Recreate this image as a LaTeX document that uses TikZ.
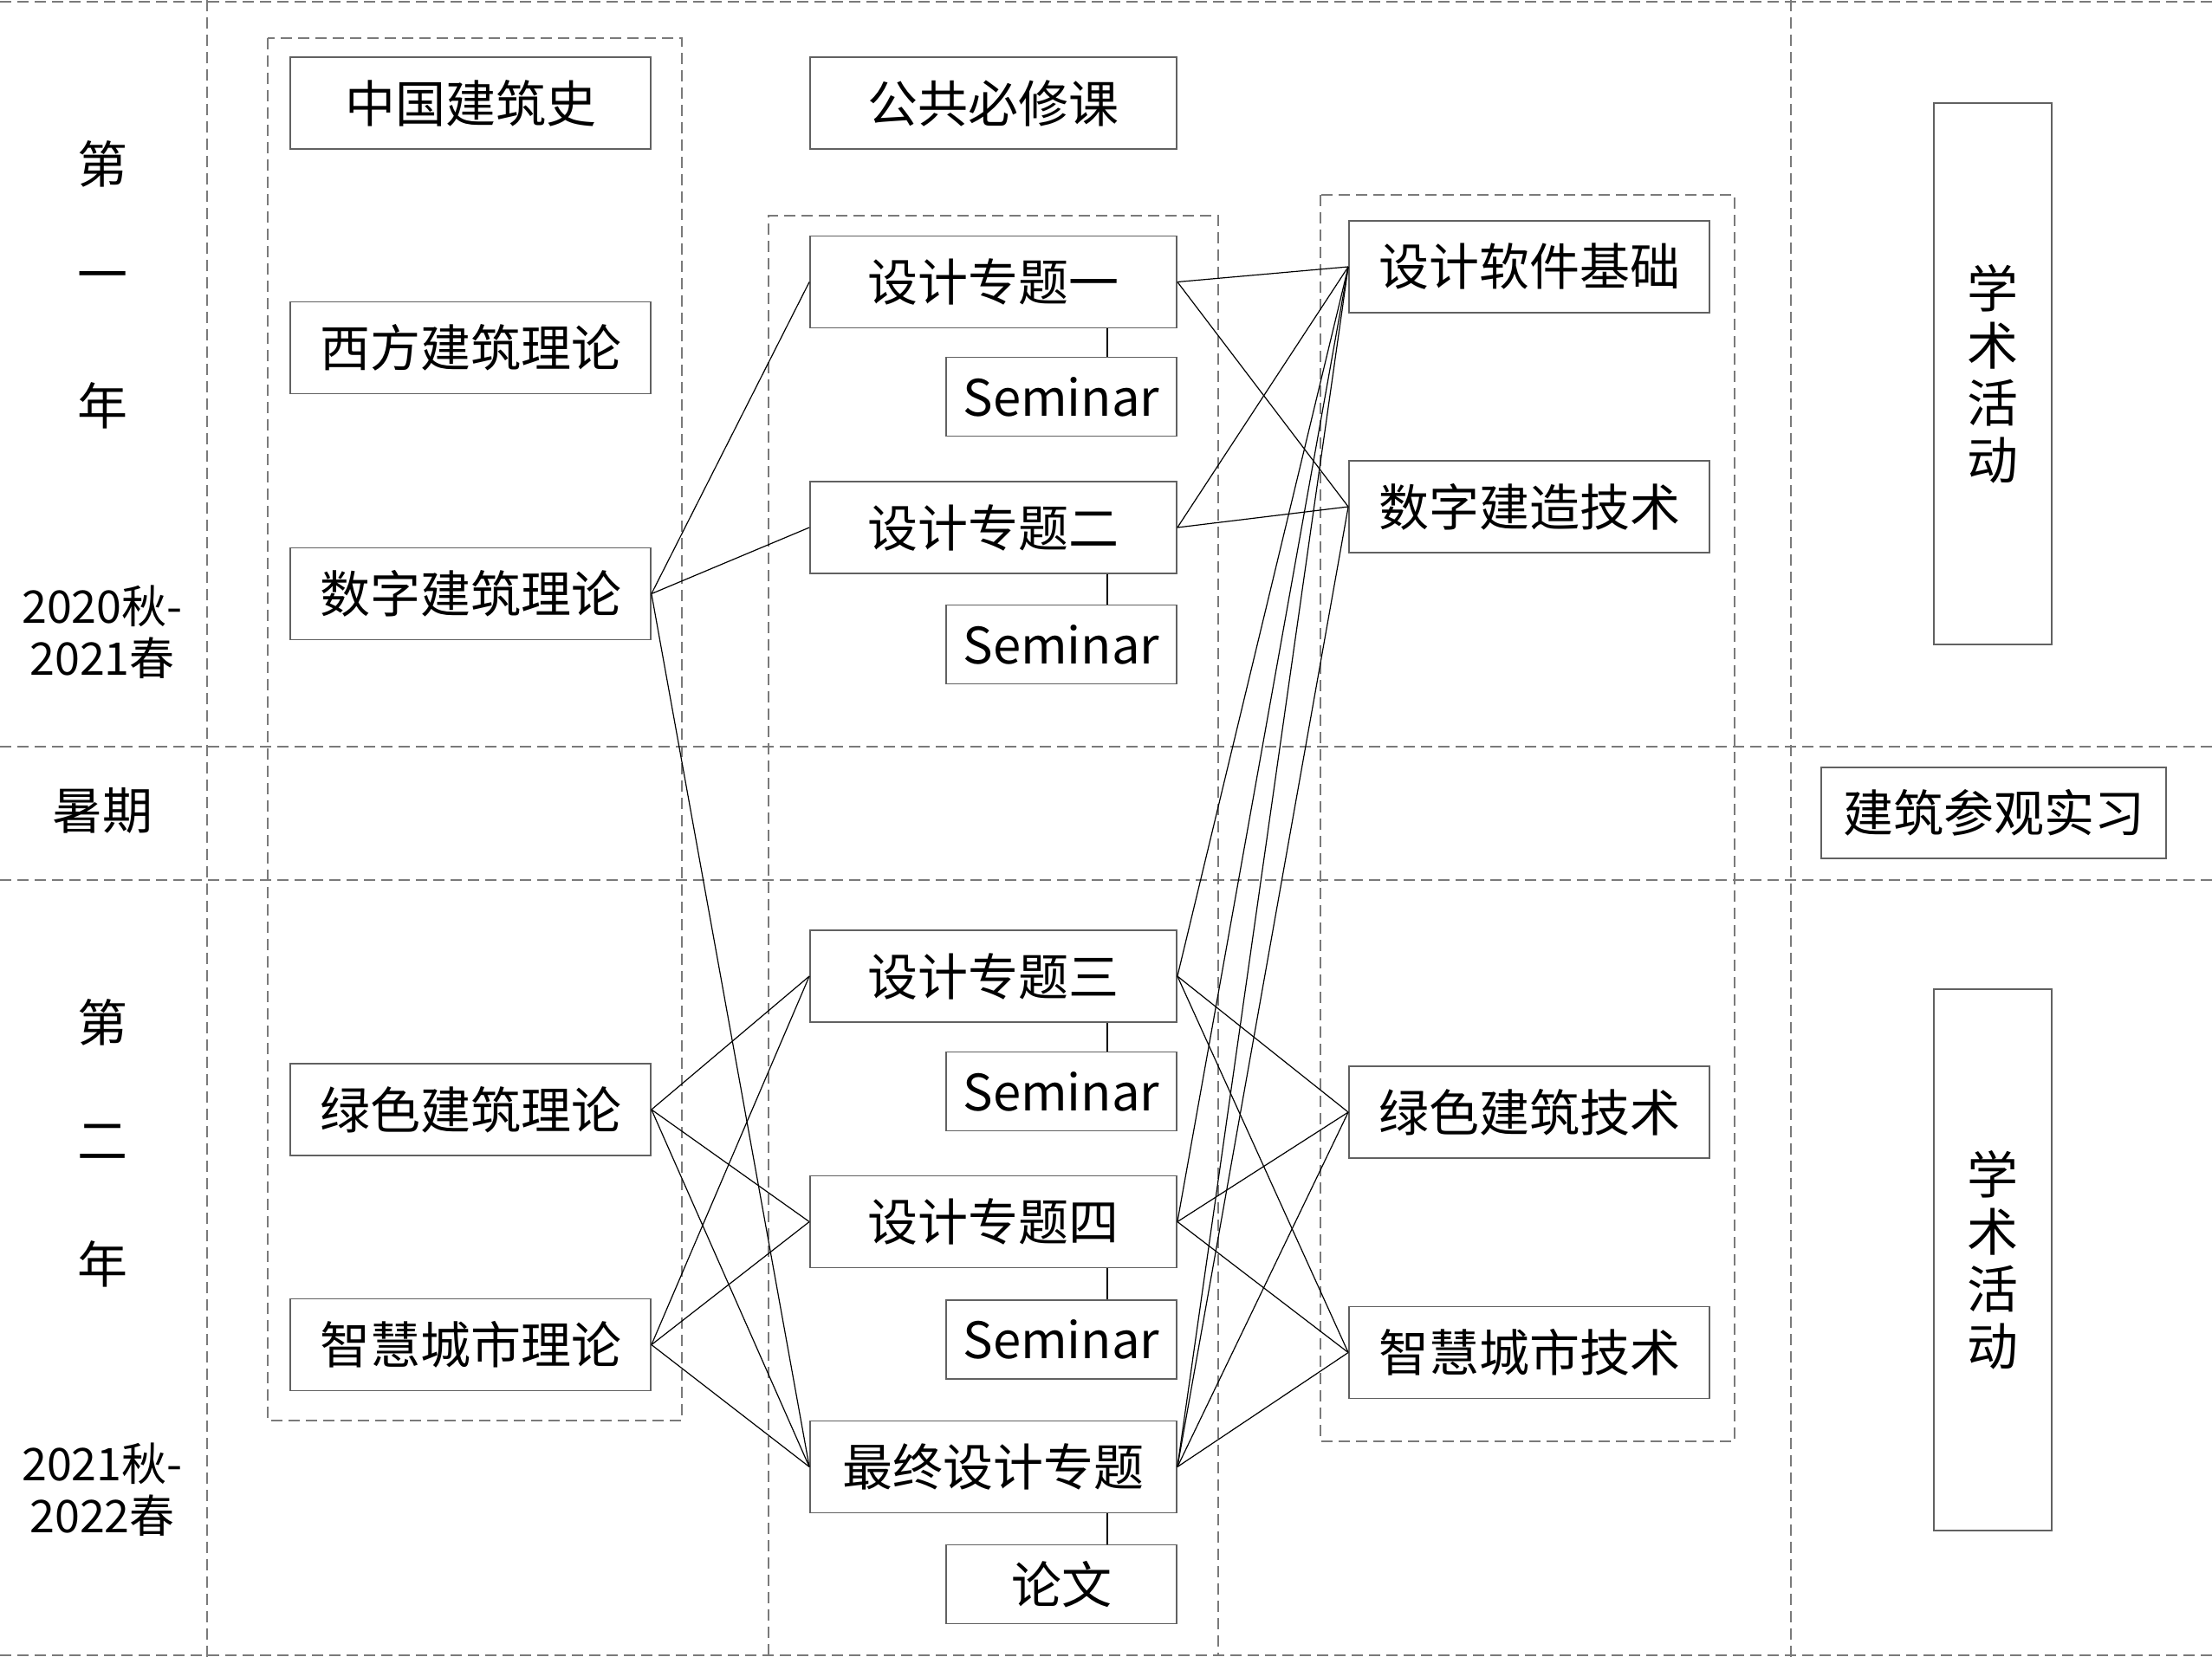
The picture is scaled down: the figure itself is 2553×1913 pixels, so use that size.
\documentclass[tikz,border=0pt]{standalone}
\usepackage{fontspec}
\setmainfont{Noto Sans CJK SC}
\begin{document}
\begin{tikzpicture}[x=1pt,y=-1pt,
  box/.style={draw=black!62, line width=1.8pt, inner sep=0pt, align=center,
    font=\fontsize{58}{64}\selectfont, text=black},
  mainbox/.style={box, minimum width=416pt, minimum height=106pt},
  midbox/.style={box, minimum width=423pt, minimum height=106pt},
  sembox/.style={box, minimum width=266pt, minimum height=91pt},
  actbox/.style={box, minimum width=136pt, minimum height=625pt, font=\fontsize{59}{66}\selectfont},
  lbl/.style={inner sep=0pt, align=center, font=\fontsize{58}{60}\selectfont},
  yearlbl/.style={inner sep=0pt, align=center, font=\fontsize{52}{60}\selectfont},
  dashline/.style={draw=black!52, line width=2pt, dash pattern=on 13pt off 7pt},
  link/.style={draw=black, line width=1.2pt}
]
\useasboundingbox (0,0) rectangle (2553,1913);
\fill[white] (0,0) rectangle (2553,1913);

% frame lines
\draw[dashline] (0,2) -- (2553,2);
\draw[dashline] (0,1911) -- (2553,1911);
\draw[dashline] (0,862) -- (2553,862);
\draw[dashline] (0,1016) -- (2553,1016);
\draw[dashline] (239,0) -- (239,1913);
\draw[dashline] (2067,0) -- (2067,1913);

% group boxes
\draw[dashline] (309,44) rectangle (787,1640);
\draw[dashline] (887,1911) -- (887,249) -- (1406,249) -- (1406,1911);
\draw[dashline] (1524,225) rectangle (2002,1664);

% left labels
\node[lbl] (y1a) at (118,189) {第};
\node[lbl] (y1b) at (118,326) {一};
\node[lbl] (y1c) at (118,468) {年};
\node[yearlbl] (t1) at (118,730) {2020秋-\\2021春};
\node[lbl] (sq) at (118,936) {暑期};
\node[lbl] (y2a) at (118,1180) {第};
\node[lbl] (y2b) at (118,1318) {二};
\node[lbl] (y2c) at (118,1459) {年};
\node[yearlbl] (t2) at (118,1720) {2021秋-\\2022春};

% left column
\node[mainbox] (zgs) at (543,119) {中国建筑史};
\node[mainbox] (xf) at (543,401.5) {西方建筑理论};
\node[mainbox] (szl) at (543,685.5) {数字建筑理论};
\node[mainbox] (lsl) at (543,1281) {绿色建筑理论};
\node[mainbox] (zhl) at (543,1552.5) {智慧城市理论};

% middle column
\node[midbox] (ggb) at (1146.5,119) {公共必修课};
\node[midbox] (d1) at (1146.5,325.5) {设计专题一};
\node[sembox] (s1) at (1225,458) {Seminar};
\node[midbox] (d2) at (1146.5,609) {设计专题二};
\node[sembox] (s2) at (1225,744) {Seminar};
\node[midbox] (d3) at (1146.5,1127) {设计专题三};
\node[sembox] (s3) at (1225,1260) {Seminar};
\node[midbox] (d4) at (1146.5,1410.5) {设计专题四};
\node[sembox] (s4) at (1225,1546.5) {Seminar};
\node[midbox] (zz) at (1146.5,1693.5) {最终设计专题};
\node[sembox] (lw) at (1225,1829) {论文};

% right column
\node[mainbox] (rj) at (1765,308) {设计软件基础};
\node[mainbox] (szj) at (1765,585) {数字建造技术};
\node[mainbox] (ljs) at (1765,1284) {绿色建筑技术};
\node[mainbox] (zjs) at (1765,1561.5) {智慧城市技术};

% far right
\node[actbox] (xs1) at (2300,431.5) {学\\术\\活\\动};
\node[box, minimum width=398pt, minimum height=105pt] (sx) at (2301,938.5) {建筑参观实习};
\node[actbox] (xs2) at (2300,1454.5) {学\\术\\活\\动};

% seminar links
\coordinate (lk) at (1278,0);
\foreach \a/\b in {d1/s1, d2/s2, d3/s3, d4/s4, zz/lw}
  \draw[link] (\a.south -| lk) -- (\b.north -| lk);

% left to middle
\foreach \a/\b in {szl/d1, szl/d2, szl/zz, lsl/d3, lsl/d4, lsl/zz, zhl/d3, zhl/d4, zhl/zz}
  \draw[link] (\a.east) -- (\b.west);

% middle to right
\foreach \a/\b in {d1/rj, d1/szj, d2/rj, d2/szj, d3/rj, d3/ljs, d3/zjs, d4/rj, d4/ljs, d4/zjs, zz/rj, zz/szj, zz/ljs, zz/zjs}
  \draw[link] (\a.east) -- (\b.west);
\end{tikzpicture}
\end{document}
